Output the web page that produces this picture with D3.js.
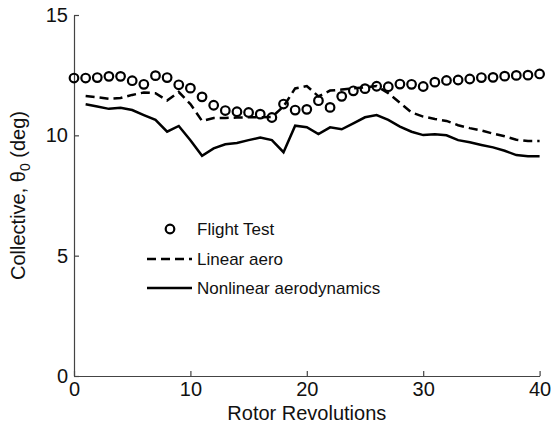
<!DOCTYPE html>
<html>
<head>
<meta charset="utf-8">
<script src="https://cdn.jsdelivr.net/npm/d3@7"></script>
<style>
  body { margin: 0; background: #fff; }
  svg { display: block; font-family: "Liberation Sans", Arial, Helvetica, sans-serif; }
</style>
</head>
<body>
<svg></svg>
<script>
// Flight test collective, one point per rotor revolution 0..40
const flightTest = [12.38, 12.38, 12.4, 12.45, 12.45, 12.27, 12.12, 12.48, 12.4, 12.1,
    11.96, 11.6, 11.25, 11.03, 10.98, 10.95, 10.88, 10.74, 11.3, 11.05,
    11.08, 11.44, 11.16, 11.62, 11.85, 11.94, 12.04, 12.02, 12.13, 12.12,
    12.03, 12.21, 12.28, 12.3, 12.34, 12.4, 12.41, 12.46, 12.49, 12.5, 12.55];

// Linear aero, revolutions 1..40
const linearAero = [11.63, 11.58, 11.52, 11.55, 11.68, 11.78, 11.75, 11.45, 11.8, 11.3,
    10.6, 10.72, 10.72, 10.74, 10.75, 10.75, 10.76, 11.2, 11.95, 12.05,
    11.62, 11.86, 11.9, 11.95, 12.0, 12.05, 11.75, 11.35, 10.95, 10.78,
    10.68, 10.6, 10.42, 10.3, 10.2, 10.07, 9.96, 9.82, 9.76, 9.76];

// Nonlinear aerodynamics, revolutions 1..40
const nonlinearAero = [11.29, 11.2, 11.1, 11.15, 11.05, 10.84, 10.64, 10.15, 10.39, 9.8,
    9.15, 9.46, 9.63, 9.68, 9.8, 9.91, 9.8, 9.3, 10.4, 10.34,
    10.05, 10.33, 10.25, 10.5, 10.75, 10.84, 10.64, 10.36, 10.15, 10.01,
    10.04, 10.0, 9.8, 9.71, 9.6, 9.5, 9.36, 9.18, 9.13, 9.13];

const xTicks = [0, 10, 20, 30, 40];
const yTicks = [0, 5, 10, 15];
const legendLabels = ["Flight Test", "Linear aero", "Nonlinear aerodynamics"];

const width = 551, height = 429;
const margin = { top: 15, right: 11.4, bottom: 53, left: 74 };

const svg = d3.select("svg").attr("width", width).attr("height", height);

const x = d3.scaleLinear().domain([0, 40]).range([margin.left, width - margin.right]);
const y = d3.scaleLinear().domain([0, 15]).range([height - margin.bottom, margin.top]);

// axes (left + bottom only, ticks pointing inward)
const xAxis = svg.append("g")
    .attr("transform", `translate(0,${y(0)})`)
    .call(d3.axisBottom(x).tickValues(xTicks).tickSizeInner(-5).tickSizeOuter(0).tickPadding(8));
const yAxis = svg.append("g")
    .attr("transform", `translate(${x(0)},0)`)
    .call(d3.axisLeft(y).tickValues(yTicks).tickSizeInner(-5).tickSizeOuter(0).tickPadding(6));

[xAxis, yAxis].forEach(a => {
    a.select(".domain").attr("stroke", "#444").attr("stroke-width", 1.2);
    a.selectAll(".tick line").attr("stroke", "#444").attr("stroke-width", 1.2);
    a.selectAll(".tick text").attr("font-size", 20).attr("fill", "#111")
        .attr("font-family", "Liberation Sans, Arial, sans-serif");
});
xAxis.selectAll(".tick text").attr("dy", "0.6em");

// axis labels
svg.append("text")
    .attr("x", x(20)).attr("y", 420)
    .attr("text-anchor", "middle").attr("font-size", 20).attr("fill", "#111")
    .text("Rotor Revolutions");

const yl = svg.append("text")
    .attr("transform", `translate(25,${y(7.5)}) rotate(-90)`)
    .attr("text-anchor", "middle").attr("font-size", 20).attr("fill", "#111");
yl.append("tspan").text("Collective, θ");
yl.append("tspan").attr("font-size", 14).attr("dy", 5).text("0");
yl.append("tspan").attr("dy", -5).text(" (deg)");

// series
const revs = d3.range(1, 41);
const line = d3.line().x((d, i) => x(revs[i])).y(d => y(d));

svg.append("path").datum(linearAero)
    .attr("fill", "none").attr("stroke", "#000").attr("stroke-width", 2.5)
    .attr("stroke-dasharray", "9,5").attr("d", line);

svg.append("path").datum(nonlinearAero)
    .attr("fill", "none").attr("stroke", "#000").attr("stroke-width", 2.5)
    .attr("d", line);

svg.append("g").selectAll("circle")
    .data(flightTest)
    .enter()
    .append("circle")
    .attr("cx", (d, i) => x(i))
    .attr("cy", d => y(d))
    .attr("r", 4.3)
    .attr("fill", "none")
    .attr("stroke", "#000")
    .attr("stroke-width", 2.2);

// legend
const legY = [229, 259, 288];
const leg = svg.append("g");
leg.append("circle").attr("cx", 170).attr("cy", legY[0]).attr("r", 4.3)
    .attr("fill", "none").attr("stroke", "#000").attr("stroke-width", 2.2);
leg.append("line").attr("x1", 147).attr("x2", 192).attr("y1", legY[1]).attr("y2", legY[1])
    .attr("stroke", "#000").attr("stroke-width", 2.5).attr("stroke-dasharray", "9,5");
leg.append("line").attr("x1", 147).attr("x2", 192).attr("y1", legY[2]).attr("y2", legY[2])
    .attr("stroke", "#000").attr("stroke-width", 2.5);
leg.selectAll("text")
    .data(legendLabels)
    .enter()
    .append("text")
    .attr("x", 197)
    .attr("y", (d, i) => legY[i])
    .attr("dy", "0.35em")
    .attr("font-size", 17)
    .attr("fill", "#111")
    .text(d => d);
</script>
</body>
</html>
